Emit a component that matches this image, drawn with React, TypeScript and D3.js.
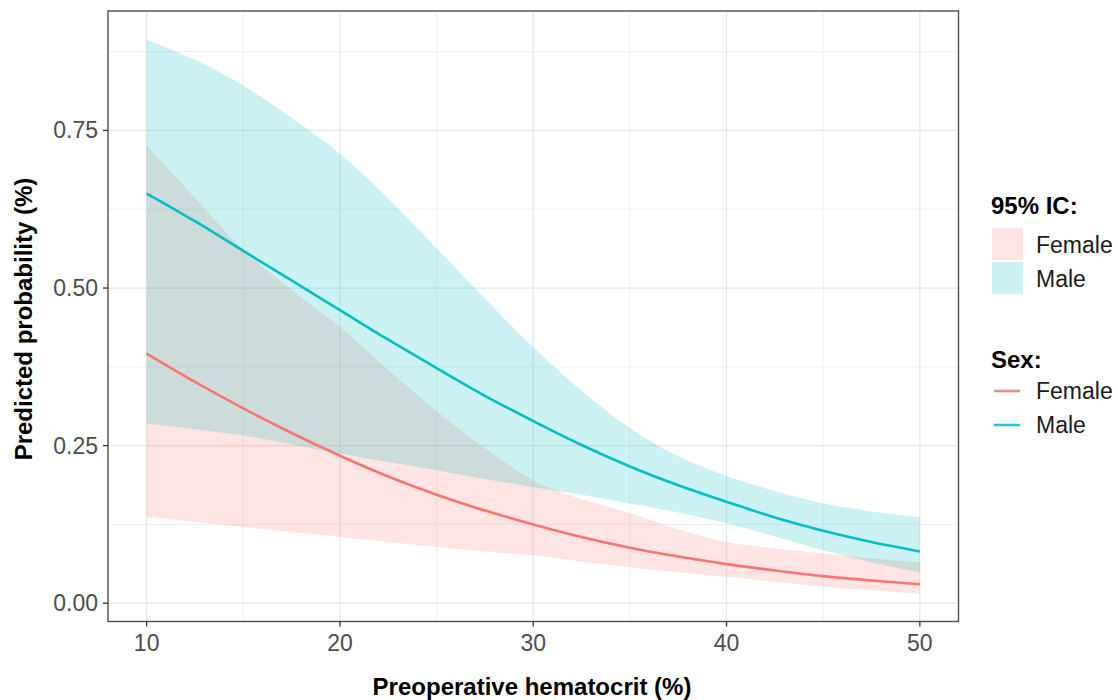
import React from "react";
import * as d3 from "d3";

// Hematocrit values (x) at which curves were read
const hematocrit = [10, 12.5, 15, 17.5, 20, 22.5, 25, 27.5, 30, 32.5, 35, 37.5, 40, 42.5, 45, 47.5, 50];

// Predicted probabilities
const femaleFit = [0.396, 0.351, 0.309, 0.270, 0.234, 0.201, 0.172, 0.147, 0.125, 0.105, 0.088, 0.074, 0.062, 0.052, 0.043, 0.036, 0.030];
const femaleLower = [0.137, 0.129, 0.121, 0.113, 0.105, 0.097, 0.089, 0.082, 0.076, 0.066, 0.057, 0.049, 0.042, 0.034, 0.026, 0.020, 0.015];
const femaleUpper = [0.726, 0.643, 0.561, 0.497, 0.438, 0.370, 0.305, 0.246, 0.195, 0.165, 0.143, 0.117, 0.097, 0.087, 0.079, 0.071, 0.065];

const maleFit = [0.650, 0.606, 0.559, 0.512, 0.465, 0.418, 0.373, 0.329, 0.289, 0.251, 0.217, 0.187, 0.161, 0.136, 0.115, 0.097, 0.082];
const maleLower = [0.285, 0.276, 0.266, 0.252, 0.237, 0.224, 0.211, 0.197, 0.184, 0.172, 0.158, 0.144, 0.127, 0.106, 0.084, 0.065, 0.049];
const maleUpper = [0.894, 0.862, 0.821, 0.770, 0.713, 0.642, 0.563, 0.483, 0.406, 0.337, 0.278, 0.233, 0.202, 0.178, 0.158, 0.146, 0.136];

const sexes = ["Female", "Male"];
const colors = ["#F8766D", "#00BFC4"];

const xTicks = [10, 20, 30, 40, 50];
const xMinor = [15, 25, 35, 45];
const yTicks = [0, 0.25, 0.5, 0.75];
const yTickLabels = ["0.00", "0.25", "0.50", "0.75"];
const yMinor = [0.125, 0.375, 0.625, 0.875];

const FONT = "'Liberation Sans', Arial, Helvetica, sans-serif";

export default function App() {
  const W = 1118, H = 700;
  const left = 108, right = 958.5, top = 11, bottom = 621.5;

  const x = d3.scaleLinear().domain([8, 52]).range([left, right]);
  const y = d3.scaleLinear().domain([-0.029, 0.9395]).range([bottom, top]);

  type Row = { x: number; fit: number; lo: number; hi: number };
  const series: Row[][] = [
    hematocrit.map((h, i) => ({ x: h, fit: femaleFit[i], lo: femaleLower[i], hi: femaleUpper[i] })),
    hematocrit.map((h, i) => ({ x: h, fit: maleFit[i], lo: maleLower[i], hi: maleUpper[i] })),
  ];

  const area = d3
    .area<Row>()
    .x((d) => x(d.x))
    .y0((d) => y(d.lo))
    .y1((d) => y(d.hi))
    .curve(d3.curveMonotoneX);
  const line = d3
    .line<Row>()
    .x((d) => x(d.x))
    .y((d) => y(d.fit))
    .curve(d3.curveMonotoneX);

  const legX = 991;

  return (
    <svg
      width={W}
      height={H}
      style={{ position: "absolute", left: 0, top: 0, background: "#fff" }}
      fontFamily={FONT}
    >
      <rect x={0} y={0} width={W} height={H} fill="#fff" />
      {/* grid */}
      <g>
        {xMinor.map((v) => (
          <line key={"xm" + v} x1={x(v)} x2={x(v)} y1={top} y2={bottom} stroke="#EFEFEF" strokeWidth={1} />
        ))}
        {yMinor.map((v) => (
          <line key={"ym" + v} x1={left} x2={right} y1={y(v)} y2={y(v)} stroke="#EFEFEF" strokeWidth={1} />
        ))}
        {xTicks.map((v) => (
          <line key={"xM" + v} x1={x(v)} x2={x(v)} y1={top} y2={bottom} stroke="#E6E6E6" strokeWidth={1.2} />
        ))}
        {yTicks.map((v) => (
          <line key={"yM" + v} x1={left} x2={right} y1={y(v)} y2={y(v)} stroke="#E6E6E6" strokeWidth={1.2} />
        ))}
      </g>
      {/* ribbons */}
      {series.map((s, i) => (
        <path key={"rib" + i} d={area(s) || ""} fill={colors[i]} fillOpacity={0.2} stroke="none" />
      ))}
      {/* lines */}
      {series.map((s, i) => (
        <path key={"ln" + i} d={line(s) || ""} fill="none" stroke={colors[i]} strokeWidth={2.6} />
      ))}
      {/* panel border */}
      <rect x={left} y={top} width={right - left} height={bottom - top} fill="none" stroke="#4D4D4D" strokeWidth={1.4} />
      {/* axes ticks and labels */}
      {xTicks.map((v) => (
        <g key={"xt" + v}>
          <line x1={x(v)} x2={x(v)} y1={bottom} y2={bottom + 5} stroke="#333" strokeWidth={1.3} />
          <text x={x(v)} y={651} textAnchor="middle" fontSize={23} fill="#4D4D4D">
            {v}
          </text>
        </g>
      ))}
      {yTicks.map((v, i) => (
        <g key={"yt" + v}>
          <line x1={left - 5} x2={left} y1={y(v)} y2={y(v)} stroke="#333" strokeWidth={1.3} />
          <text x={98} y={y(v) + 8} textAnchor="end" fontSize={23} fill="#4D4D4D">
            {yTickLabels[i]}
          </text>
        </g>
      ))}
      {/* axis titles */}
      <text x={532} y={695} textAnchor="middle" fontSize={24} fontWeight="bold" fill="#000">
        Preoperative hematocrit (%)
      </text>
      <text
        transform={`translate(32, 319) rotate(-90)`}
        textAnchor="middle"
        fontSize={24}
        fontWeight="bold"
        fill="#000"
      >
        Predicted probability (%)
      </text>
      {/* legend: ribbons */}
      <text x={legX} y={214} fontSize={24} fontWeight="bold" fill="#000">
        95% IC:
      </text>
      {sexes.map((s, i) => (
        <g key={"lr" + s}>
          <rect x={legX + 1} y={228 + i * 34} width={31} height={32} fill={colors[i]} fillOpacity={0.2} />
          <text x={1036} y={253 + i * 34} fontSize={23} fill="#1A1A1A">
            {s}
          </text>
        </g>
      ))}
      {/* legend: lines */}
      <text x={legX} y={368} fontSize={24} fontWeight="bold" fill="#000">
        Sex:
      </text>
      {sexes.map((s, i) => (
        <g key={"ll" + s}>
          <line x1={legX + 3} x2={legX + 29} y1={391 + i * 34} y2={391 + i * 34} stroke={colors[i]} strokeWidth={2.6} strokeOpacity={0.85} />
          <text x={1036} y={399 + i * 34} fontSize={23} fill="#1A1A1A">
            {s}
          </text>
        </g>
      ))}
    </svg>
  );
}
